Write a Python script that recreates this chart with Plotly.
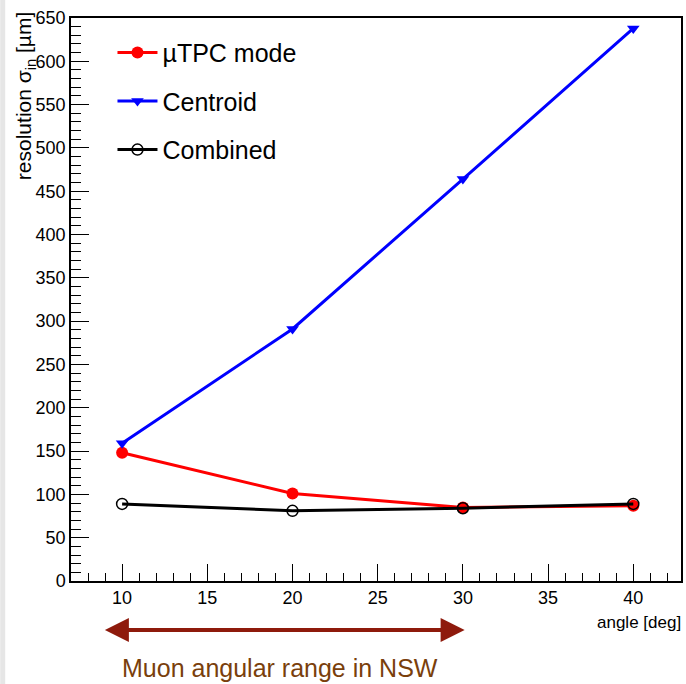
import plotly.graph_objects as go

angles = [10, 20, 30, 40]
utpc = [148, 101, 85, 87]
centroid = [159, 291, 464, 638]
combined = [89, 81, 84, 89]
x_ticks = [10, 15, 20, 25, 30, 35, 40]
y_ticks = list(range(0, 651, 50))

FONT = "Liberation Sans, Arial, sans-serif"
W, H = 686, 684
L, R, T, B = 71, 3, 18, 103

fig = go.Figure()
fig.add_trace(go.Scatter(x=angles, y=utpc, mode="lines+markers", name="\u00b5TPC mode",
                         line=dict(color="#ff0000", width=3), legendgroup="a",
                         marker=dict(symbol="circle", size=12, color="#ff0000")))
fig.add_trace(go.Scatter(x=angles, y=centroid, mode="lines+markers", name="Centroid",
                         line=dict(color="#0000ff", width=3), legendgroup="b",
                         marker=dict(symbol="triangle-down", size=11, color="#0000ff")))
fig.add_trace(go.Scatter(x=angles, y=combined, mode="lines+markers", name="Combined",
                         line=dict(color="#000000", width=3), legendgroup="c",
                         marker=dict(symbol="circle-open", size=11, color="#000000",
                                     line=dict(width=1.5))))

fig.update_layout(
    width=W, height=H,
    margin=dict(l=L, r=R, t=T, b=B),
    paper_bgcolor="white", plot_bgcolor="white",
    font=dict(family=FONT, color="black"),
    showlegend=True,
    legend=dict(x=0.068, y=0.979, xanchor="left", yanchor="top",
                font=dict(size=25, family=FONT), bgcolor="rgba(0,0,0,0)",
                tracegroupgap=13, itemwidth=40),
    xaxis=dict(range=[7, 42.8], tickvals=x_ticks, ticks="inside", ticklen=17,
               tickcolor="black", showgrid=False, zeroline=False,
               showline=True, linecolor="black", linewidth=1.5, mirror=True,
               tickfont=dict(size=18), minor=dict(dtick=1, tick0=0, ticks="inside",
                                                   ticklen=8, tickcolor="black")),
    yaxis=dict(range=[0, 650], tickvals=y_ticks, ticks="inside", ticklen=18,
               tickcolor="black", showgrid=False, zeroline=False,
               showline=True, linecolor="black", linewidth=1.5, mirror=True,
               tickfont=dict(size=18), minor=dict(dtick=10, tick0=0, ticks="inside",
                                                   ticklen=10, tickcolor="black")),
)

pw = W - L - R
ph = H - T - B

# axis titles
fig.add_annotation(text="angle [deg]", xref="paper", yref="paper",
                   x=1.0 + (R - 1) / pw, y=-(622 - (H - B)) / ph,
                   xanchor="right", yanchor="middle", showarrow=False,
                   font=dict(size=17, family=FONT))
fig.add_annotation(text="resolution \u03c3<sub>in</sub> [\u00b5m]", xref="paper", yref="paper",
                   x=-(L - 25) / pw, y=1.0 + (T - 10) / ph, textangle=-90,
                   xanchor="center", yanchor="top", showarrow=False,
                   font=dict(size=21, family=FONT))

# arrow for muon angular range
arrow_y = -(630 - (H - B)) / ph
fig.add_annotation(x=30.1, y=arrow_y, ax=8.9, ay=0, xref="x", yref="paper",
                   axref="x", ayref="pixel", text="", showarrow=True,
                   arrowhead=2, startarrowhead=2, arrowside="end+start",
                   arrowsize=1.2, startarrowsize=1.2, arrowwidth=4, arrowcolor="#8e1a0c")
fig.add_annotation(text="Muon angular range in NSW", xref="paper", yref="paper",
                   x=(120 - L) / pw, y=-(668 - (H - B)) / ph, xanchor="left",
                   yanchor="middle", showarrow=False,
                   font=dict(size=25, family=FONT, color="#7a3f0c"))

# light gray strip on left edge
fig.add_shape(type="rect", xref="paper", yref="paper", x0=-L / pw, x1=-(L - 5) / pw,
              y0=-B / ph, y1=1 + T / ph, fillcolor="#e6e6e6", line=dict(width=0),
              layer="below")

fig.write_html("out.html")
